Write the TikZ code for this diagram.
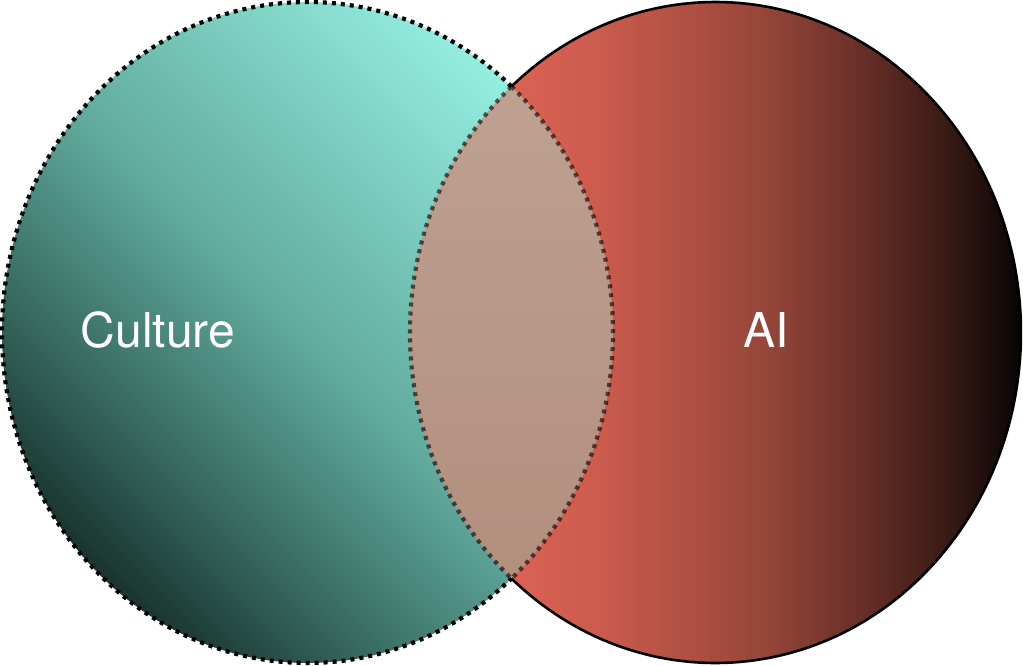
\documentclass[tikz,border=0pt]{standalone}
\usepackage{fontspec}
\setmainfont{TeX Gyre Heros}
\usetikzlibrary{%
  calc,%
  positioning% wg. " of "
}

\definecolor{culturedark}{RGB}{26,52,47}
\definecolor{culturedim}{RGB}{60,114,104}
\definecolor{culturemid}{RGB}{98,172,158}
\definecolor{culturelight}{RGB}{148,238,224}
\definecolor{aileft}{RGB}{234,106,90}
\definecolor{aiwarm}{RGB}{205,92,78}
\definecolor{aimid}{RGB}{150,70,57}
\definecolor{aidark}{RGB}{110,50,42}
\definecolor{aideep}{RGB}{60,28,22}
\definecolor{aiend}{RGB}{8,4,4}
\definecolor{overlaptop}{RGB}{192,164,149}
\definecolor{overlapbot}{RGB}{176,140,122}

\pgfdeclarehorizontalshading{cultureshade}{100bp}{%
  color(0bp)=(culturedark); color(25bp)=(culturedark);
  color(37bp)=(culturedim); color(50bp)=(culturemid);
  color(75bp)=(culturelight); color(100bp)=(culturelight)}
\pgfdeclarehorizontalshading{aishade}{100bp}{%
  color(0bp)=(aileft); color(25bp)=(aileft); color(40bp)=(aiwarm);
  color(54bp)=(aimid); color(61bp)=(aidark); color(68.5bp)=(aideep);
  color(75bp)=(aiend); color(100bp)=(aiend)}

\begin{document}
\begin{tikzpicture}
  [
  x=1pt, y=1pt,
  font=\fontsize{48}{50}\selectfont,
  rad/.style={x radius=305.5pt, y radius=330.5pt},
  dotline/.style={line width=4.2pt, dash pattern=on 4pt off 5pt},
  culturerim/.style={dotline, draw=black},
  airim/.style={line width=2.6pt, draw=black},
  overlaprim/.style={dotline, draw=black, draw opacity=0.6},
  setlabel/.style={anchor=base, text=white, inner sep=0pt}
  ]

\useasboundingbox (0,0) rectangle (1023,665);

\coordinate (cc) at (307.5,332.5);
\coordinate (ac) at (715.5,332.5);
\coordinate (top) at ($(cc)+(48.11:305.5 and 330.5)$);
\coordinate (bot) at ($(cc)+(-48.11:305.5 and 330.5)$);

% the two sets
\shade[shading=cultureshade, shading angle=45] (cc) ellipse[rad];
\shade[shading=aishade] (ac) ellipse[rad];

% overlap
\begin{scope}
  \clip (cc) ellipse[rad];
  \shade[top color=overlaptop, bottom color=overlapbot] (ac) ellipse[rad];
\end{scope}

\draw[culturerim] (top) arc[start angle=48.11, end angle=311.89, rad];
\draw[airim] (bot) arc[start angle=-131.89, end angle=131.89, rad];
\draw[overlaprim] (top) arc[start angle=48.11, end angle=-48.11, rad]
  arc[start angle=228.11, end angle=131.89, rad];

\node[setlabel] (culture) at (158,317) {Culture};
\node[setlabel] (ai) at (766,317) {AI};
\end{tikzpicture}
\end{document}
